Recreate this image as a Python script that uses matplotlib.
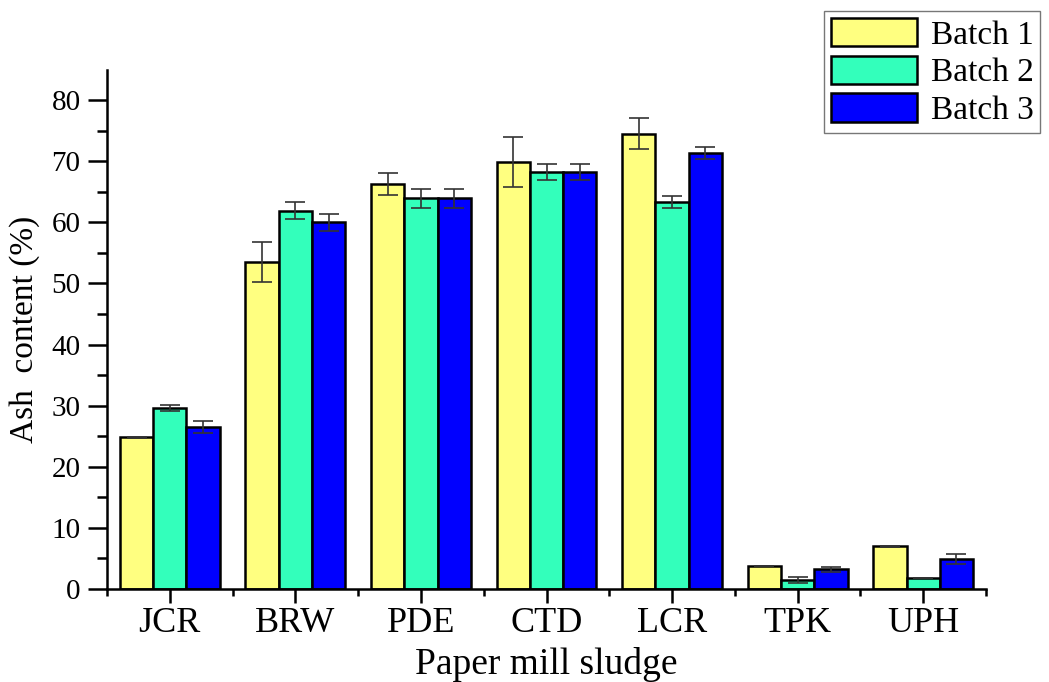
import numpy as np
from matplotlib import pyplot as plt

plt.rcParams['font.family'] = ['Liberation Serif', 'DejaVu Serif']

sludges = ['JCR', 'BRW', 'PDE', 'CTD', 'LCR', 'TPK', 'UPH']
batch_names = ['Batch 1', 'Batch 2', 'Batch 3']

batch1 = [24.8, 53.5, 66.3, 69.9, 74.5, 3.8, 7.0]
batch2 = [29.6, 61.9, 63.9, 68.3, 63.3, 1.5, 1.8]
batch3 = [26.5, 60.0, 63.9, 68.3, 71.3, 3.2, 4.9]

err1 = [0.05, 3.35, 1.8, 4.05, 2.5, 0.0, 0.1]
err2 = [0.45, 1.4, 1.6, 1.3, 0.95, 0.5, 0.0]
err3 = [0.95, 1.4, 1.6, 1.3, 1.0, 0.4, 0.85]

colors = ['#FFFF80', '#33FFBB', '#0000FF']

fig = plt.figure(figsize=(10.49, 6.82), dpi=100)
ax = fig.add_axes([107 / 1049, 1 - 589 / 682, (986 - 107) / 1049, (589 - 69.5) / 682])

x = np.arange(1, len(sludges) + 1)
width = 0.265
series = [batch1, batch2, batch3]
errors = [err1, err2, err3]

for i, (vals, errs) in enumerate(zip(series, errors)):
    pos = x + (i - 1) * width
    ax.bar(pos, vals, width, color=colors[i], edgecolor='black',
           linewidth=1.8, label=batch_names[i], zorder=2)
    ax.errorbar(pos, vals, yerr=errs, fmt='none', ecolor='#333333',
                elinewidth=1.2, capsize=7, capthick=1.2, zorder=3)

ax.set_xlim(0.5, 7.5)
ax.set_ylim(0, 85)
ax.set_xticks(x)
ax.set_xticklabels(sludges)
ax.set_xticks(np.arange(0.5, 8, 1), minor=True)
ax.set_yticks(np.arange(0, 81, 10))
ax.set_yticks(np.arange(5, 85, 10), minor=True)

for side in ['top', 'right']:
    ax.spines[side].set_visible(False)
for side in ['left', 'bottom']:
    ax.spines[side].set_linewidth(1.8)

ax.tick_params(axis='y', which='major', length=14, width=1.8, labelsize=21, pad=5)
ax.tick_params(axis='y', which='minor', length=7, width=1.8)
ax.tick_params(axis='x', which='major', length=10, width=1.8, labelsize=26, pad=3)
ax.tick_params(axis='x', which='minor', length=5, width=1.8)

ax.set_ylabel('Ash  content (%)', fontsize=24, labelpad=8)
ax.set_xlabel('Paper mill sludge', fontsize=27, labelpad=5)

leg = ax.legend(loc='upper left', bbox_to_anchor=(824 / 1049, 1 - 11 / 682),
                bbox_transform=fig.transFigure, fontsize=24, frameon=True,
                fancybox=False, handlelength=2.6, handleheight=0.95,
                labelspacing=0.15, handletextpad=0.4, borderpad=0.2,
                borderaxespad=0)
leg.get_frame().set_edgecolor('#555555')
leg.get_frame().set_linewidth(1.0)

plt.savefig('out.png', dpi=100)
